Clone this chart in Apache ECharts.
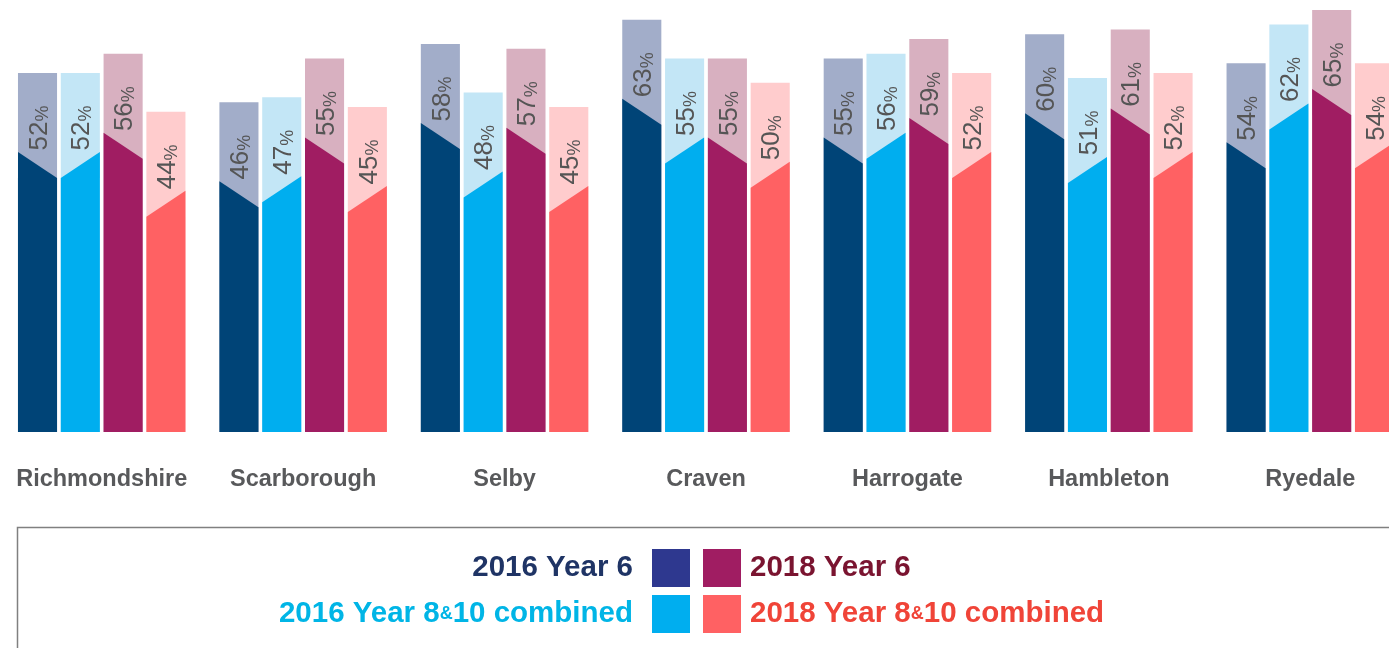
<!DOCTYPE html>
<html>
<head>
<meta charset="utf-8">
<title>Year 6 and Year 8&amp;10 by district</title>
<script src="https://cdn.jsdelivr.net/npm/echarts@6/dist/echarts.min.js"></script>
<style>
    html, body { margin: 0; padding: 0; background: #fff; }
    #chart_districts { width: 1389px; height: 648px; }
</style>
</head>
<body>
<div id="chart_districts"></div>
<script>

// Data
// ------------------------------

var categories = ['Richmondshire', 'Scarborough', 'Selby', 'Craven', 'Harrogate', 'Hambleton', 'Ryedale'];

var seriesNames = ['2016 Year 6', '2016 Year 8&10 combined', '2018 Year 6', '2018 Year 8&10 combined'];

var year6_2016 = [52, 46, 58, 63, 55, 60, 54];
var year810_2016 = [52, 47, 48, 55, 56, 51, 62];
var year6_2018 = [56, 55, 57, 55, 59, 61, 65];
var year810_2018 = [44, 45, 45, 50, 52, 52, 54];


// Styles
// ------------------------------

var fontFamily = '"Liberation Sans", Arial, Helvetica, sans-serif';

// dark bottom / light top tint for each series
var darkColors = ['#004477', '#00aeef', '#a01d62', '#ff6163'];
var lightColors = ['#a2adc9', '#c3e6f6', '#d8b0c0', '#ffcccd'];
var legendColors = ['#2e388f', '#00aeef', '#a01d62', '#ff6163'];
var legendTextColors = ['#1f3465', '#00b5e6', '#7a1430', '#f04438'];

// Year 6 bars slope down to the right, Year 8&10 bars slope up
var slopeDown = [true, false, true, false];


// Bar drawing
// ------------------------------

var makeRenderItem = function (s) {
    return function (params, api) {
        var pt = api.coord([api.value(0), api.value(1)]);
        var band = api.size([1, 0])[0];
        var bottom = params.coordSys.y + params.coordSys.height;

        var barW = band * 0.194;
        var gap = band * 0.0185;
        var groupW = barW * 4 + gap * 3;
        var left = pt[0] - groupW / 2 + s * (barW + gap);
        var right = left + barW;
        var top = pt[1];

        var hi = top + 79;
        var lo = top + 105;
        var yl = slopeDown[s] ? hi : lo;
        var yr = slopeDown[s] ? lo : hi;

        return {
            type: 'group',
            children: [{
                type: 'rect',
                shape: { x: left, y: top, width: barW, height: bottom - top },
                style: { fill: lightColors[s] }
            }, {
                type: 'polygon',
                shape: { points: [[left, bottom], [left, yl], [right, yr], [right, bottom]] },
                style: { fill: darkColors[s] }
            }, {
                type: 'text',
                x: left + barW / 2 + 1,
                y: top + 55,
                rotation: Math.PI / 2,
                style: {
                    text: '{n|' + api.value(1) + '}{p|%}',
                    align: 'center',
                    verticalAlign: 'middle',
                    rich: {
                        n: { fontSize: 26, fontFamily: fontFamily, fill: '#555', color: '#555', verticalAlign: 'bottom', lineHeight: 28 },
                        p: { fontSize: 18, fontFamily: fontFamily, fill: '#555', color: '#555', verticalAlign: 'bottom', lineHeight: 28 }
                    }
                }
            }]
        };
    };
};

var allValues = [year6_2016, year810_2016, year6_2018, year810_2018];

var series = allValues.map(function (vals, s) {
    return {
        name: seriesNames[s],
        type: 'custom',
        renderItem: makeRenderItem(s),
        encode: { x: 0, y: 1 },
        itemStyle: { color: legendColors[s] },
        data: vals.map(function (v, i) { return [i, v]; })
    };
});


// Legends (one per entry, laid out around the swatches)
// ------------------------------

var legendFormatter = function (name) {
    return name.replace('&', '{a|&}');
};

var makeLegend = function (s, pos) {
    var isRight = (s === 0 || s === 1);
    var lg = {
        data: [seriesNames[s]],
        orient: 'horizontal',
        align: isRight ? 'right' : 'left',
        top: pos.top,
        padding: 0,
        icon: 'rect',
        itemWidth: 38,
        itemHeight: 38,
        selectedMode: false,
        formatter: legendFormatter,
        textStyle: {
            color: legendTextColors[s],
            fontFamily: fontFamily,
            fontWeight: 'bold',
            fontSize: 29.5,
            padding: isRight ? [0, 14, 0, 0] : [0, 0, 0, 4],
            rich: {
                a: { color: legendTextColors[s], fontFamily: fontFamily, fontWeight: 'bold', fontSize: 18 }
            }
        }
    };
    if (isRight) lg.right = pos.right; else lg.left = pos.left;
    return lg;
};


// Chart
// ------------------------------

var chart_element = document.getElementById('chart_districts');
var chart = echarts.init(chart_element);

chart.setOption({
    animation: false,
    textStyle: { fontFamily: fontFamily },

    grid: {
        left: 1,
        top: 10,
        width: 1410,
        height: 422,
        outerBoundsMode: 'none',
        containLabel: false
    },

    xAxis: {
        type: 'category',
        data: categories,
        axisLine: { show: false },
        axisTick: { show: false },
        axisLabel: {
            color: '#58595b',
            fontWeight: 'bold',
            fontSize: 23.5,
            fontFamily: fontFamily,
            margin: 36,
            interval: 0
        }
    },

    yAxis: {
        type: 'value',
        min: -22,
        max: 65,
        show: false
    },

    legend: [
        makeLegend(0, { right: 699, top: 549 }),
        makeLegend(2, { left: 703, top: 549 }),
        makeLegend(1, { right: 699, top: 595 }),
        makeLegend(3, { left: 703, top: 595 })
    ],

    graphic: [{
        type: 'rect',
        shape: { x: 17.5, y: 527.5, width: 1400, height: 200 },
        style: { fill: 'none', stroke: '#808080', lineWidth: 1.5 },
        z: 0
    }],

    series: series
});

</script>
</body>
</html>
